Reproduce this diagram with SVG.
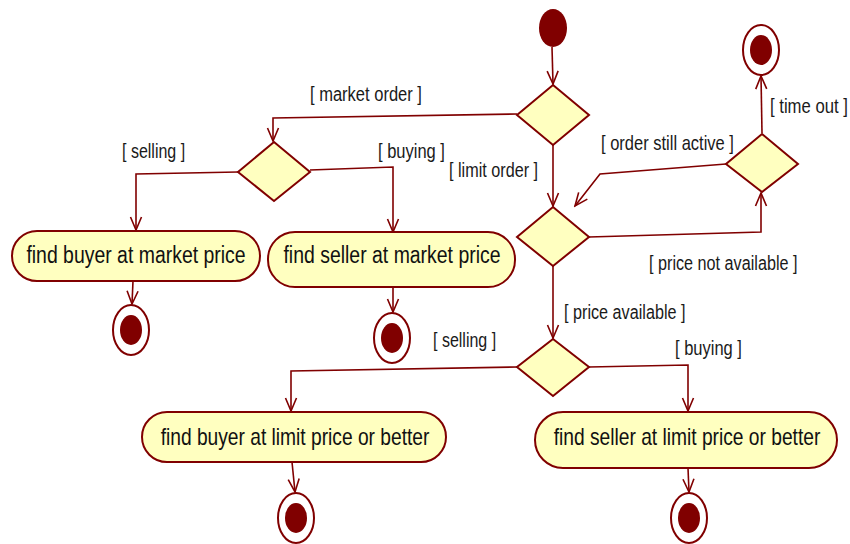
<svg xmlns="http://www.w3.org/2000/svg" width="850" height="544" viewBox="0 0 850 544">
  <style>
    .dec { fill: #ffffc0; stroke: #800000; stroke-width: 2; }
    .act { fill: #ffffc0; stroke: #800000; stroke-width: 2; }
    .edge { fill: none; stroke: #800000; stroke-width: 1.6; marker-end: url(#open); }
    .start { fill: #800000; }
    .endo { fill: #ffffff; stroke: #800000; stroke-width: 2; }
    .endi { fill: #800000; }
    .lbl { font-family: "Liberation Sans", Arial, sans-serif; font-size: 20px; fill: #1a1a1a; }
    .txt { font-family: "Liberation Sans", Arial, sans-serif; font-size: 24px; fill: #111111; text-anchor: middle; }
  </style>
  <defs>
    <marker id="open" viewBox="-14 -7 16 14" refX="0" refY="0" markerWidth="16" markerHeight="14" markerUnits="userSpaceOnUse" orient="auto">
      <path d="M-13,-5.5 L0,0 L-13,5.5" fill="none" stroke="#800000" stroke-width="1.6"/>
    </marker>
  </defs>

  <rect width="850" height="544" fill="#ffffff"/>

  <!-- transitions -->
  <g id="connectors">
    <path class="edge" d="M552,47 L553,84"/>
    <path class="edge" d="M517,114 L273,118 L273,141"/>
    <path class="edge" d="M238,172 L136,174 L136,230"/>
    <path class="edge" d="M310,170 L393,167 L393,232"/>
    <path class="edge" d="M133,281 L132,304"/>
    <path class="edge" d="M393,287 L393,312"/>
    <path class="edge" d="M553,145 L553,206"/>
    <path class="edge" d="M589,237 L761,232 L761,193"/>
    <path class="edge" d="M726,164 L600,174 L575,206"/>
    <path class="edge" d="M762,133 L761,76"/>
    <path class="edge" d="M553,266 L553,338"/>
    <path class="edge" d="M517,367 L291,371 L291,411"/>
    <path class="edge" d="M589,367 L688,365 L688,411"/>
    <path class="edge" d="M292,462 L295,492"/>
    <path class="edge" d="M688,468 L689,492"/>
  </g>

  <!-- guard labels (narrow lettering via horizontal scale) -->
  <g id="labels">
    <text class="lbl" transform="translate(310,101) scale(0.826,1)">[ market order ]</text>
    <text class="lbl" transform="translate(122,158) scale(0.80,1)">[ selling ]</text>
    <text class="lbl" transform="translate(378,158) scale(0.825,1)">[ buying ]</text>
    <text class="lbl" transform="translate(449,177) scale(0.81,1)">[ limit order ]</text>
    <text class="lbl" transform="translate(601,150) scale(0.825,1)">[ order still active ]</text>
    <text class="lbl" transform="translate(770,113) scale(0.835,1)">[ time out ]</text>
    <text class="lbl" transform="translate(649,270) scale(0.81,1)">[ price not available ]</text>
    <text class="lbl" transform="translate(564,319) scale(0.81,1)">[ price available ]</text>
    <text class="lbl" transform="translate(433,347) scale(0.80,1)">[ selling ]</text>
    <text class="lbl" transform="translate(675,355) scale(0.825,1)">[ buying ]</text>
  </g>

  <!-- initial node -->
  <g id="start">
    <ellipse class="start" cx="553" cy="28" rx="14" ry="19"/>
  </g>

  <!-- decision nodes -->
  <g id="orderType">
    <polygon class="dec" points="553,85 589,115 553,145 517,115"/>
  </g>
  <g id="marketSide">
    <polygon class="dec" points="274,142 310,172 274,201 238,172"/>
  </g>
  <g id="priceCheck">
    <polygon class="dec" points="553,207 589,237 553,266 517,237"/>
  </g>
  <g id="timeoutCheck">
    <polygon class="dec" points="762,134 798,164 762,192 726,164"/>
  </g>
  <g id="limitSide">
    <polygon class="dec" points="553,339 589,367 553,396 517,367"/>
  </g>

  <!-- actions -->
  <g id="buyerMarket">
    <rect class="act" x="12" y="231" width="248" height="50" rx="25" ry="25"/>
    <text class="txt" transform="translate(136,263) scale(0.81,1)">find buyer at market price</text>
  </g>
  <g id="sellerMarket">
    <rect class="act" x="268" y="232" width="247" height="55" rx="27" ry="27"/>
    <text class="txt" transform="translate(392,263) scale(0.81,1)">find seller at market price</text>
  </g>
  <g id="buyerLimit">
    <rect class="act" x="142" y="412" width="304" height="50" rx="25" ry="25"/>
    <text class="txt" transform="translate(295,445) scale(0.80,1)">find buyer at limit price or better</text>
  </g>
  <g id="sellerLimit">
    <rect class="act" x="535" y="412" width="302" height="56" rx="28" ry="28"/>
    <text class="txt" transform="translate(687,445) scale(0.80,1)">find seller at limit price or better</text>
  </g>

  <!-- final nodes -->
  <g id="end1">
    <ellipse class="endo" cx="131" cy="330" rx="18" ry="25"/>
    <ellipse class="endi" cx="131" cy="330" rx="11" ry="15"/>
  </g>
  <g id="end2">
    <ellipse class="endo" cx="392" cy="338" rx="18" ry="25"/>
    <ellipse class="endi" cx="392" cy="338" rx="11" ry="15"/>
  </g>
  <g id="end3">
    <ellipse class="endo" cx="761" cy="50" rx="18" ry="25"/>
    <ellipse class="endi" cx="761" cy="50" rx="11" ry="15"/>
  </g>
  <g id="end4">
    <ellipse class="endo" cx="296" cy="518" rx="18" ry="25"/>
    <ellipse class="endi" cx="296" cy="518" rx="11" ry="15"/>
  </g>
  <g id="end5">
    <ellipse class="endo" cx="689" cy="518" rx="18" ry="25"/>
    <ellipse class="endi" cx="689" cy="518" rx="11" ry="15"/>
  </g>
</svg>
